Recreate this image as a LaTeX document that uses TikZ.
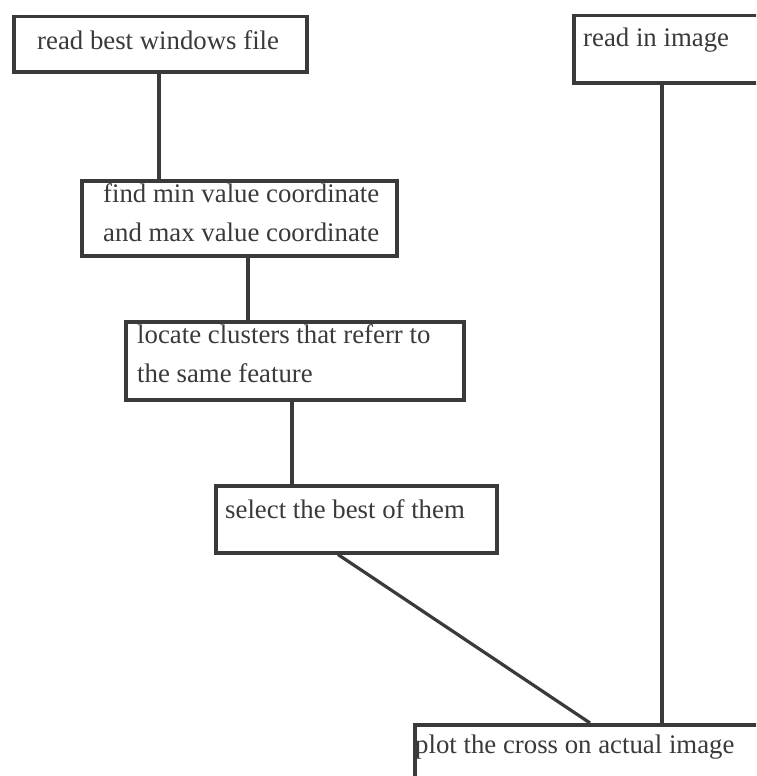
\documentclass[tikz,border=0pt]{standalone}
\usepackage{fontspec}
\setmainfont{Liberation Serif}
\definecolor{ink}{HTML}{3A3A3A}
\begin{document}
\begin{tikzpicture}[x=1pt,y=-1pt,
  box/.style={draw=ink, line width=3.5pt, rectangle, inner sep=0pt, anchor=north west},
  txt/.style={anchor=base west, inner sep=0pt, text=ink, align=left,
              font=\fontsize{26.8}{39}\selectfont},
  link/.style={draw=ink, line width=3.2pt}]
\useasboundingbox (0,0) rectangle (756,776);
\clip (0,0) rectangle (756,776);
\fill[white] (0,0) rectangle (756,776);
% boxes
\node[box, minimum width=293pt, minimum height=55pt] (b1) at (12,15) {};
\node[box, minimum width=210pt, minimum height=67pt] (b2) at (572,14) {};
\node[box, minimum width=315pt, minimum height=75pt] (b3) at (80,179) {};
\node[box, minimum width=338pt, minimum height=78pt] (b4) at (124,320) {};
\node[box, minimum width=281pt, minimum height=67pt] (b5) at (214,484) {};
\node[box, minimum width=380pt, minimum height=80pt] (b6) at (413,723) {};
% texts (base anchor = last line)
\node[txt] (t1) at (37,50) {read best windows file};
\node[txt] (t2) at (583,47) {read in image};
\node[txt] (t3) at (103,241) {find min value coordinate\\and max value coordinate};
\node[txt] (t4) at (137,382) {locate clusters that referr to\\the same feature};
\node[txt] (t5) at (225,518) {select the best of them};
\node[txt] (t6) at (415,753) {plot the cross on actual image};
% connector columns
\coordinate (c1) at (159,0);
\coordinate (c2) at (248,0);
\coordinate (c3) at (292,0);
\coordinate (c4) at (662,0);
\coordinate (c5) at (338,0);
\coordinate (c6) at (590,0);
% connectors
\draw[link] (b1.south -| c1) -- (b3.north -| c1);
\draw[link] (b3.south -| c2) -- (b4.north -| c2);
\draw[link] (b4.south -| c3) -- (b5.north -| c3);
\draw[link] (b5.south -| c5) -- (b6.north -| c6);
\draw[link] (b2.south -| c4) -- (b6.north -| c4);
\end{tikzpicture}
\end{document}
